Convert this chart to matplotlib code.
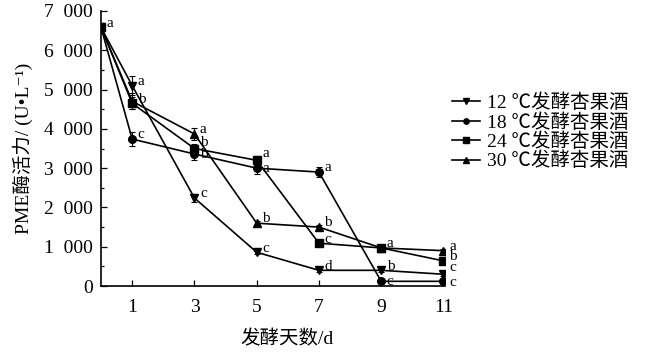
import numpy as np
import matplotlib.pyplot as plt
from matplotlib.ticker import MultipleLocator, FuncFormatter

plt.rcParams['font.family'] = ['Liberation Serif', 'Noto Sans CJK SC', 'DejaVu Sans']

# 数据
dias = [0, 1, 3, 5, 7, 9, 11]
series_nombres = ['12 ℃发酵杏果酒', '18 ℃发酵杏果酒', '24 ℃发酵杏果酒', '30 ℃发酵杏果酒']
v12 = [6580, 5100, 2240, 860, 400, 400, 300]
v18 = [6580, 3740, 3360, 3000, 2900, 120, 120]
v24 = [6580, 4650, 3500, 3200, 1090, 970, 640]
v30 = [6580, 4700, 3870, 1600, 1500, 970, 900]
e12 = [80, 250, 100, 50, 40, 40, 40]
e18 = [80, 180, 150, 150, 130, 30, 30]
e24 = [80, 150, 120, 120, 60, 50, 40]
e30 = [80, 200, 150, 60, 60, 50, 40]
l12 = ['', 'a', 'c', 'c', 'd', 'b', 'c']
l18 = ['a', 'c', 'b', 'a', 'a', 'c', 'c']
l24 = ['', 'b', 'b', 'a', 'c', 'a', 'b']
l30 = ['', '', 'a', 'b', 'b', '', 'a']

fig = plt.figure(figsize=(6.52, 3.54), dpi=100)
ax = fig.add_axes([0.155, 0.192, 0.528, 0.777])

marcadores = ['v', 'o', 's', '^']
valores = [v12, v18, v24, v30]
errores = [e12, e18, e24, e30]
letras = [l12, l18, l24, l30]
# ajustes verticales de algunas letras (serie, dia): puntos
ajuste = {(0, 11): 5, (1, 11): -1, (1, 9): 0, (1, 3): 0, (2, 3): 4,
          (1, 5): 0, (2, 5): 5}

for i, (nombre, m, v, e, l) in enumerate(zip(series_nombres, marcadores, valores, errores, letras)):
    ax.errorbar(dias, v, yerr=e, color='black', fmt='none', elinewidth=0.8,
                capsize=2.5, capthick=0.8)
    ax.plot(dias, v, color='black', marker=m, markersize=5.5, linewidth=1.2, label=nombre)
    for x, y, t in zip(dias, v, l):
        if t:
            dy = ajuste.get((i, x), 3)
            ax.annotate(t, (x, y), xytext=(4, dy), textcoords='offset points',
                        fontsize=11, ha='left', va='center')

ax.set_xlim(0, 11.06)
ax.set_ylim(0, 7000)
ax.set_xticks([1, 3, 5, 7, 9, 11])
ax.yaxis.set_major_locator(MultipleLocator(1000))
ax.yaxis.set_minor_locator(MultipleLocator(500))
ax.yaxis.set_major_formatter(FuncFormatter(lambda v, p: f'{int(v):,}'.replace(',', '\u2002')))
ax.tick_params(direction='in', labelsize=14, length=4, width=0.9, pad=6)
ax.tick_params(axis='x', pad=9)
ax.tick_params(which='minor', direction='in', length=2.5, width=0.9)
ax.spines['top'].set_visible(False)
ax.spines['right'].set_visible(False)
ax.spines['left'].set_linewidth(1.2)
ax.spines['bottom'].set_linewidth(1.2)

ax.set_xlabel('发酵天数/d', fontsize=14)
ax.xaxis.set_label_coords(0.54, -0.16)
ax.set_ylabel('PME酶活力/ (U•L⁻¹)', fontsize=14, labelpad=8)

ax.legend(loc='center left', bbox_to_anchor=(0.97, 0.56), frameon=False, fontsize=14,
          handlelength=1.4, handletextpad=0.4, labelspacing=0.05, markerscale=0.7)

fig.savefig('out.png', dpi=100)
